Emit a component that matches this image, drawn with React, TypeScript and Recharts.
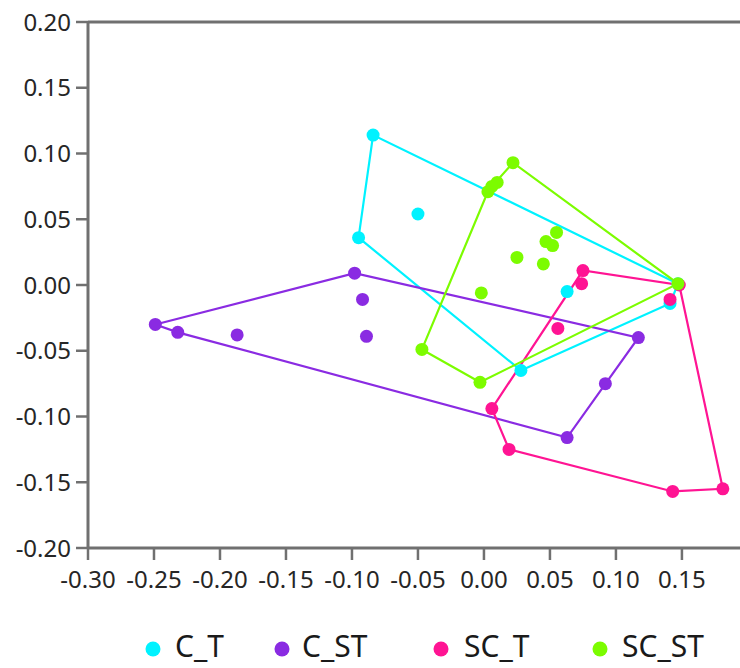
import React from 'react';
import { ScatterChart, Scatter, XAxis, YAxis, ReferenceLine } from 'recharts';

type Pt = { x: number; y: number };

// group names and colours
const groups = ['C_T', 'C_ST', 'SC_T', 'SC_ST'];
const colors = ['#00F2FF', '#8A2BE2', '#FF1493', '#7CFC00'];

// scores
const cT: Pt[] = [
  { x: -0.084, y: 0.114 },
  { x: -0.05, y: 0.054 },
  { x: -0.095, y: 0.036 },
  { x: 0.063, y: -0.005 },
  { x: 0.028, y: -0.065 },
  { x: 0.141, y: -0.014 },
  { x: 0.147, y: 0.001 },
];

const cST: Pt[] = [
  { x: -0.249, y: -0.03 },
  { x: -0.232, y: -0.036 },
  { x: -0.187, y: -0.038 },
  { x: -0.098, y: 0.009 },
  { x: -0.092, y: -0.011 },
  { x: -0.089, y: -0.039 },
  { x: 0.117, y: -0.04 },
  { x: 0.092, y: -0.075 },
  { x: 0.063, y: -0.116 },
];

const scT: Pt[] = [
  { x: 0.075, y: 0.011 },
  { x: 0.074, y: 0.001 },
  { x: 0.056, y: -0.033 },
  { x: 0.141, y: -0.011 },
  { x: 0.148, y: 0.0 },
  { x: 0.006, y: -0.094 },
  { x: 0.019, y: -0.125 },
  { x: 0.143, y: -0.157 },
  { x: 0.181, y: -0.155 },
];

const scST: Pt[] = [
  { x: 0.022, y: 0.093 },
  { x: 0.01, y: 0.078 },
  { x: 0.006, y: 0.075 },
  { x: 0.003, y: 0.071 },
  { x: 0.055, y: 0.04 },
  { x: 0.047, y: 0.033 },
  { x: 0.052, y: 0.03 },
  { x: 0.025, y: 0.021 },
  { x: 0.045, y: 0.016 },
  { x: -0.002, y: -0.006 },
  { x: 0.147, y: 0.001 },
  { x: -0.047, y: -0.049 },
  { x: -0.003, y: -0.074 },
];

const xTicks = [-0.3, -0.25, -0.2, -0.15, -0.1, -0.05, 0, 0.05, 0.1, 0.15];
const yTicks = [-0.2, -0.15, -0.1, -0.05, 0, 0.05, 0.1, 0.15, 0.2];

const series = [cT, cST, scT, scST];

// convex hull (monotone chain), closed back to the first vertex
function hull(pts: Pt[]): Pt[] {
  const p = [...pts].sort((a, b) => a.x - b.x || a.y - b.y);
  const cross = (o: Pt, a: Pt, b: Pt) => (a.x - o.x) * (b.y - o.y) - (a.y - o.y) * (b.x - o.x);
  const lower: Pt[] = [];
  for (const q of p) {
    while (lower.length >= 2 && cross(lower[lower.length - 2], lower[lower.length - 1], q) <= 0) lower.pop();
    lower.push(q);
  }
  const upper: Pt[] = [];
  for (let i = p.length - 1; i >= 0; i--) {
    const q = p[i];
    while (upper.length >= 2 && cross(upper[upper.length - 2], upper[upper.length - 1], q) <= 0) upper.pop();
    upper.push(q);
  }
  const h = lower.slice(0, -1).concat(upper.slice(0, -1));
  return [...h, h[0]];
}

const AXIS = '#707070';
const FONT = '"Noto Sans", "Open Sans", sans-serif';
const tickStyle = { fill: '#262626', fontSize: 24, fontFamily: FONT };

// legend layout (dot centre, label start)
const legendPos = [
  { dot: 153, text: 175 },
  { dot: 282, text: 302 },
  { dot: 441, text: 464 },
  { dot: 600, text: 622 },
];

export default function App() {
  return (
    <div style={{ position: 'absolute', left: 0, top: 0, width: 740, height: 668, background: '#fff' }}>
      <ScatterChart width={740} height={668} margin={{ top: 22, right: 0, bottom: 60, left: 0 }}>
        <XAxis
          type="number"
          dataKey="x"
          domain={[-0.3, 0.194]}
          ticks={xTicks}
          allowDataOverflow
          height={60}
          tickSize={12}
          tickMargin={11}
          tick={tickStyle}
          tickFormatter={(v: number) => v.toFixed(2)}
          axisLine={{ stroke: AXIS, strokeWidth: 3 }}
          tickLine={{ stroke: AXIS, strokeWidth: 2.5 }}
        />
        <YAxis
          type="number"
          dataKey="y"
          domain={[-0.2, 0.2]}
          ticks={yTicks}
          allowDataOverflow
          width={88}
          tickSize={12}
          tickMargin={5}
          tick={tickStyle}
          tickFormatter={(v: number) => v.toFixed(2)}
          axisLine={{ stroke: AXIS, strokeWidth: 3 }}
          tickLine={{ stroke: AXIS, strokeWidth: 2.5 }}
        />
        <ReferenceLine y={0.2} stroke={AXIS} strokeWidth={3} />
        {series.map((s, i) => (
          <Scatter
            key={`hull-${groups[i]}`}
            data={hull(s)}
            line={{ stroke: colors[i], strokeWidth: 2.2 }}
            lineType="joint"
            shape={() => <g />}
            legendType="none"
            isAnimationActive={false}
          />
        ))}
        {series.map((s, i) => (
          <Scatter
            key={groups[i]}
            name={groups[i]}
            data={s}
            fill={colors[i]}
            shape={(p: any) => <circle cx={p.cx} cy={p.cy} r={6.5} fill={colors[i]} />}
            isAnimationActive={false}
          />
        ))}
      </ScatterChart>
      <svg width={740} height={668} style={{ position: 'absolute', left: 0, top: 0, pointerEvents: 'none' }}>
        {groups.map((g, i) => (
          <g key={g}>
            <circle cx={legendPos[i].dot} cy={649} r={7.5} fill={colors[i]} />
            <text x={legendPos[i].text} y={657} fontSize={30} fontFamily={FONT} fill="#1a1a1a">
              {g}
            </text>
          </g>
        ))}
      </svg>
    </div>
  );
}
